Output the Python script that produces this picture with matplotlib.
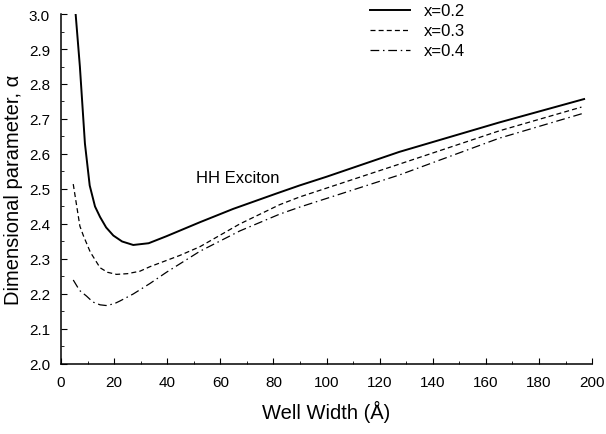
import matplotlib
matplotlib.use("Agg")
import matplotlib.pyplot as plt
from matplotlib.ticker import MultipleLocator

plt.rcParams['font.family'] = ['Liberation Sans', 'DejaVu Sans']

# x=0.2 (solid)
w_02 = [5.5, 7.1, 9.0, 10.8, 12.8, 14.7, 17.0, 19.7, 23.0, 27.2, 33.0, 39.7,
        52.3, 64.8, 81.1, 89.8, 100.0, 127.4, 165.0, 197.0]
a_02 = [3.00, 2.85, 2.63, 2.51, 2.45, 2.42, 2.39, 2.367, 2.35, 2.34, 2.345, 2.365,
        2.405, 2.443, 2.487, 2.51, 2.535, 2.606, 2.69, 2.757]

# x=0.3 (dashed)
w_03 = [4.6, 7.1, 8.4, 11.0, 14.7, 17.5, 20.9, 25.0, 29.7, 33.5, 44.7, 52.3,
        67.3, 82.3, 89.8, 127.4, 165.0, 196.0]
a_03 = [2.514, 2.394, 2.367, 2.32, 2.275, 2.262, 2.256, 2.258, 2.265, 2.278, 2.31, 2.335,
        2.40, 2.455, 2.477, 2.571, 2.666, 2.734]

# x=0.4 (dash-dot)
w_04 = [4.6, 7.0, 9.6, 12.0, 14.7, 17.0, 20.0, 22.2, 27.2, 33.5, 39.7, 52.3,
        67.3, 82.3, 89.8, 127.4, 165.0, 197.0]
a_04 = [2.24, 2.21, 2.194, 2.177, 2.169, 2.167, 2.172, 2.18, 2.20, 2.23, 2.262, 2.322,
        2.38, 2.428, 2.448, 2.54, 2.645, 2.717]

fig = plt.figure(figsize=(6.06, 4.35), dpi=100)
ax = fig.add_axes([0.1007, 0.161, 0.8763, 0.8045])

ax.plot(w_02, a_02, color='black', lw=1.4, label='x=0.2')
ax.plot(w_03, a_03, color='black', lw=0.9, linestyle=(0, (4, 2.5)), label='x=0.3')
ax.plot(w_04, a_04, color='black', lw=0.9, linestyle=(0, (7, 3, 1.2, 3)), label='x=0.4')

ax.text(50.8, 2.534, 'HH Exciton', fontsize=12, ha='left', va='center')

ax.set_xlim(0, 200)
ax.set_ylim(2.0, 3.0)
ax.xaxis.set_major_locator(MultipleLocator(20))
ax.xaxis.set_minor_locator(MultipleLocator(10))
ax.yaxis.set_major_locator(MultipleLocator(0.1))
ax.yaxis.set_minor_locator(MultipleLocator(0.05))
ax.tick_params(which='major', direction='in', length=4.5, width=0.8, labelsize=11, pad=8)
ax.tick_params(which='minor', direction='in', length=2.2, width=0.6)
ax.tick_params(top=False, right=False, which='both')
ax.spines['top'].set_visible(False)
ax.spines['right'].set_visible(False)
ax.spines['left'].set_linewidth(1.1)
ax.spines['bottom'].set_linewidth(1.1)

ax.set_xlabel('Well Width (Å)', fontsize=14.5, labelpad=8)
ax.set_ylabel('Dimensional parameter, α', fontsize=14.5, labelpad=4)

fig.legend(loc='upper left', bbox_to_anchor=(0.6106, 0.99), frameon=False,
           fontsize=12, handlelength=2.4, handletextpad=0.8, labelspacing=0.3,
           borderpad=0, borderaxespad=0)

fig.savefig('out.png', dpi=100)
